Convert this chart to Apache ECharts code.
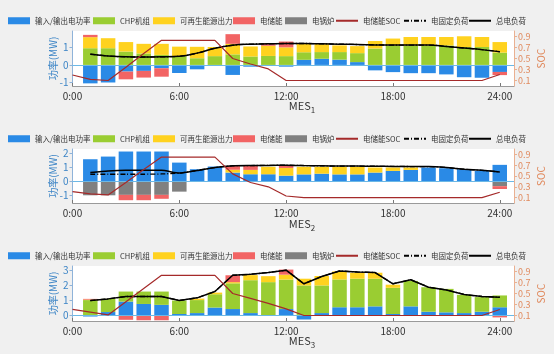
<!DOCTYPE html>
<html>
<head>
<meta charset="utf-8">
<script src="https://cdn.jsdelivr.net/npm/echarts@6/dist/echarts.min.js"></script>
<style>
  html, body { margin: 0; padding: 0; background: #f0f0f0; }
  #chart { width: 554px; height: 354px; }
</style>
</head>
<body>
<div id="chart"></div>
<script>
var hours = [1,2,3,4,5,6,7,8,9,10,11,12,13,14,15,16,17,18,19,20,21,22,23,24];
var socHours = [0,1,2,3,4,5,6,7,8,9,10,11,12,13,14,15,16,17,18,19,20,21,22,23,24];
var timeTicks = [0, 6, 12, 18, 24];
var socTicks = [0.1, 0.3, 0.5, 0.7, 0.9];

var names = ['输入/输出电功率', 'CHP机组', '可再生能源出力', '电储能', '电锅炉', '电储能SOC', '电固定负荷', '总电负荷'];

// MES1
var grid1 = [-1.05,-1.0,-0.38,-0.34,-0.19,-0.46,-0.25,0,-0.57,-0.1,0,-0.1,0.29,0.35,0.3,0.16,-0.31,-0.41,-0.47,-0.47,-0.54,-0.7,-0.73,-0.4];
var chp1 = [0.95,0.95,0.76,0.65,0.57,0.5,0.38,0.5,0.6,0.48,0.51,0.5,0.43,0.38,0.43,0.51,0.93,1.11,1.11,1.11,1.11,1.02,1.02,0.7];
var ren1 = [0.63,0.57,0.54,0.55,0.63,0.54,0.65,0.52,0.6,0.57,0.58,0.5,0.48,0.48,0.38,0.4,0.43,0.39,0.48,0.48,0.48,0.61,0.57,0.6];
var ess1 = [0.13,0,-0.44,-0.38,-0.48,0,0,0,0.55,0,0.15,0.33,0,0,0,0,0,0,0,0,0,0,0,-0.18];
var boil1 = [0,0,0,0,0,0,0,0,0,0,0,0,0,0,0,0,0,0,0,0,0,0,0,0];
var soc1 = [0.2,0.12,0.1,0.34,0.59,0.83,0.83,0.83,0.83,0.5,0.4,0.31,0.1,0.1,0.1,0.1,0.1,0.1,0.1,0.1,0.1,0.1,0.1,0.1,0.21];
var fix1 = [0.61,0.51,0.46,0.45,0.46,0.49,0.67,0.95,1.12,1.18,1.2,1.22,1.22,1.2,1.18,1.16,1.14,1.13,1.13,1.13,1.05,0.96,0.87,0.75];
var load1 = [0.61,0.51,0.46,0.45,0.46,0.49,0.67,0.95,1.12,1.18,1.2,1.22,1.22,1.2,1.18,1.16,1.14,1.13,1.13,1.13,1.05,0.96,0.87,0.75];

// MES2
var grid2 = [1.57,1.76,2.12,2.12,2.12,1.33,0.86,1.05,0.62,0.5,0.5,0.4,0.49,0.54,0.49,0.49,0.62,0.74,0.81,0.98,0.93,0.86,0.74,1.17];
var chp2 = [0,0,0,0,0,0,0,0,0,0,0,0,0,0,0,0,0,0,0,0,0,0,0,0];
var ren2 = [0,0,0,0,0,0,0,0,0.2,0.31,0.53,0.55,0.54,0.49,0.54,0.54,0.36,0.24,0.17,0,0,0,0,0];
var ess2 = [0,0,-0.38,-0.38,-0.28,0,0,0,0.28,0.29,0,0.19,0,0,0,0,0,0,0,0,0,0,0,-0.2];
var boil2 = [-1.0,-1.0,-0.97,-0.97,-0.97,-0.74,0,0,0,0,0,0,0,0,0,0,0,0,0,0,0,0,0,-0.35];
var soc2 = [0.21,0.17,0.15,0.38,0.62,0.85,0.85,0.85,0.85,0.54,0.38,0.3,0.13,0.1,0.1,0.1,0.1,0.1,0.1,0.1,0.1,0.1,0.1,0.1,0.2];
var fix2 = [0.5,0.5,0.5,0.5,0.52,0.58,0.77,0.98,1.1,1.12,1.13,1.15,1.12,1.1,1.08,1.08,1.07,1.06,1.05,1.05,0.98,0.86,0.78,0.66];
var load2 = [0.62,0.74,0.79,0.79,0.79,0.58,0.77,0.98,1.1,1.12,1.13,1.15,1.12,1.1,1.08,1.08,1.07,1.06,1.05,1.05,0.98,0.86,0.78,0.66];

// MES3
var grid3 = [-0.1,0.2,0.9,0.74,0.68,0.07,0.13,0.5,0.4,0.13,0,0.4,-0.3,0.13,0.52,0.52,0.58,0.07,0.58,0.22,0.18,0.13,0.22,0.52];
var chp3 = [1.0,0.88,0.67,0.83,0.89,0.9,0.87,0.89,1.72,2.2,2.2,1.97,1.98,1.85,1.86,1.91,1.85,1.75,1.7,1.64,1.57,1.22,0.98,0.79];
var ren3 = [0.03,0,0,0,0,0,0.1,0.11,0.08,0.34,0.4,0.33,0.45,0.63,0.54,0.4,0.4,0.21,0,0,0,0,0,0];
var ess3 = [0.05,0,-0.32,-0.35,-0.35,0,0,0,0.46,0,0,0.34,0,0,0,0,0,0,0,0,0,0,0,-0.16];
var boil3 = [0,0,0,0,0,0,0,0,0,0,0,0,0,0,0,0,0,0,0,0,0,0,0,0];
var soc3 = [0.21,0.16,0.11,0.35,0.59,0.83,0.83,0.83,0.83,0.5,0.41,0.32,0.22,0.1,0.1,0.1,0.1,0.1,0.1,0.1,0.1,0.1,0.1,0.1,0.21];
var fix3 = [0.97,1.08,1.24,1.24,1.24,0.97,1.15,1.57,2.66,2.72,2.84,3.0,2.09,2.58,2.95,2.88,2.84,2.09,2.36,1.86,1.68,1.37,1.24,1.19];
var load3 = [0.97,1.08,1.24,1.24,1.24,0.97,1.15,1.57,2.66,2.72,2.84,3.0,2.09,2.58,2.95,2.88,2.84,2.09,2.36,1.86,1.68,1.37,1.24,1.19];

var panels = [
    {grid: grid1, chp: chp1, ren: ren1, ess: ess1, boil: boil1, soc: soc1, fix: fix1, load: load1, ymin: -1.2, ymax: 1.93, yticks: [-1, 0, 1], smooth: 0.4},
    {grid: grid2, chp: chp2, ren: ren2, ess: ess2, boil: boil2, soc: soc2, fix: fix2, load: load2, ymin: -1.55, ymax: 2.3, yticks: [-1, 0, 1, 2], smooth: 0.2},
    {grid: grid3, chp: chp3, ren: ren3, ess: ess3, boil: boil3, soc: soc3, fix: fix3, load: load3, ymin: -0.4, ymax: 3.28, yticks: [0, 1, 2, 3], smooth: false}
];

var tops = [31, 149, 266];
var heights = [55, 54, 55];
var legendTops = [12, 130, 247];
var legendLefts = [3, 88, 148, 228, 280, 330, 398, 463];
var titleTops = [93, 211, 328];

var colors = {
    grid: '#2a8ae6', chp: '#9acd32', ren: '#ffd21f', ess: '#f26464', boil: '#808080',
    soc: '#a52a2a'
};
var blueText = '#3d85c6';
var orangeText = '#e08a5e';
var font = '"Noto Sans CJK SC", "Noto Sans", sans-serif';

// bars: value first, hour second, so the stack runs on the value
function barPairs(xs, ys) {
    return xs.map(function (x, k) { return [ys[k], x]; });
}
function pairs(xs, ys) {
    return xs.map(function (x, k) { return [x, ys[k]]; });
}

var chart = echarts.init(document.getElementById('chart'));

var option = {
    backgroundColor: '#f0f0f0',
    animation: false,
    textStyle: {fontFamily: font},
    grid: [], xAxis: [], yAxis: [], legend: [], title: [], series: []
};

panels.forEach(function (p, i) {
    option.grid.push({
        left: 72.5, right: 34, top: tops[i], height: heights[i],
        show: true, backgroundColor: '#ffffff', borderWidth: 0
    });
    option.xAxis.push({
        type: 'value', gridIndex: i, min: 0, max: 24.8,
        axisLine: {onZero: false, lineStyle: {color: '#9a9a9a'}},
        axisTick: {inside: true, length: 3, customValues: timeTicks, lineStyle: {color: '#777'}},
        axisLabel: {customValues: timeTicks, color: '#333', fontSize: 10, margin: 5,
            formatter: function (v) { return v + ':00'; }},
        splitLine: {show: false}
    });
    option.yAxis.push({
        type: 'value', gridIndex: i, min: p.ymin, max: p.ymax,
        name: '功率(MW)', nameLocation: 'middle', nameGap: 14, nameMoveOverlap: false,
        nameTextStyle: {color: blueText, fontSize: 10},
        axisLine: {show: true, lineStyle: {color: '#8fb3d9'}},
        axisTick: {show: true, length: 3, customValues: p.yticks, lineStyle: {color: '#8fb3d9'}},
        axisLabel: {customValues: p.yticks, color: blueText, fontSize: 10, margin: 4},
        splitLine: {show: false}
    });
    option.yAxis.push({
        type: 'value', gridIndex: i, min: 0, max: 1, position: 'right',
        name: 'SOC', nameLocation: 'middle', nameGap: 22, nameMoveOverlap: false,
        nameTextStyle: {color: orangeText, fontSize: 10},
        axisLine: {show: true, lineStyle: {color: '#eab091'}},
        axisTick: {show: true, length: 3, customValues: socTicks, lineStyle: {color: '#eab091'}},
        axisLabel: {customValues: socTicks, color: orangeText, fontSize: 9, margin: 4,
            formatter: function (v) { return v.toFixed(1); }},
        splitLine: {show: false}
    });
    names.forEach(function (n, k) {
        option.legend.push({
            top: legendTops[i], left: legendLefts[k], itemWidth: 22, itemHeight: 7,
            textStyle: {fontSize: 7.5, color: '#333'},
            data: [k < 5 ? {name: n, icon: 'rect'} : {name: n, itemStyle: {opacity: 0}}]
        });
    });
    option.title.push({
        text: 'MES{s|' + (i + 1) + '}', left: 297, top: titleTops[i], textAlign: 'center',
        textStyle: {fontSize: 11, fontWeight: 'normal', color: '#333',
            rich: {s: {fontSize: 8, color: '#333', padding: [8, 0, 0, 0]}}}
    });

    var xi = i, yl = i * 2, yr = i * 2 + 1, stack = 'mes' + i;
    var barBase = {type: 'bar', xAxisIndex: xi, yAxisIndex: yl, stack: stack, barWidth: 14.5,
        encode: {x: 1, y: 0}};
    option.series.push(Object.assign({}, barBase, {
        name: names[0], itemStyle: {color: colors.grid}, data: barPairs(hours, p.grid),
        markLine: {silent: true, symbol: 'none', label: {show: false},
            lineStyle: {color: '#6cb8e6', width: 1, type: 'solid'}, data: [{yAxis: 0}]}
    }));
    option.series.push(Object.assign({}, barBase, {name: names[1], itemStyle: {color: colors.chp}, data: barPairs(hours, p.chp)}));
    option.series.push(Object.assign({}, barBase, {name: names[2], itemStyle: {color: colors.ren}, data: barPairs(hours, p.ren)}));
    option.series.push(Object.assign({}, barBase, {name: names[4], itemStyle: {color: colors.boil}, data: barPairs(hours, p.boil)}));
    option.series.push(Object.assign({}, barBase, {name: names[3], itemStyle: {color: colors.ess}, data: barPairs(hours, p.ess)}));
    option.series.push({
        name: names[6], type: 'line', xAxisIndex: xi, yAxisIndex: yl, symbol: 'none', smooth: p.smooth,
        lineStyle: {color: '#000', width: 1.3, type: [5, 2, 1, 2]}, itemStyle: {color: '#000'},
        data: pairs(hours, p.fix), z: 3
    });
    option.series.push({
        name: names[7], type: 'line', xAxisIndex: xi, yAxisIndex: yl, symbol: 'none', smooth: p.smooth,
        lineStyle: {color: '#000', width: 1.5}, itemStyle: {color: '#000'},
        data: pairs(hours, p.load), z: 4
    });
    option.series.push({
        name: names[5], type: 'line', xAxisIndex: xi, yAxisIndex: yr, symbol: 'none',
        lineStyle: {color: colors.soc, width: 1.2}, itemStyle: {color: '#d23b3b'},
        data: pairs(socHours, p.soc), z: 5
    });
});

chart.setOption(option);
</script>
</body>
</html>
